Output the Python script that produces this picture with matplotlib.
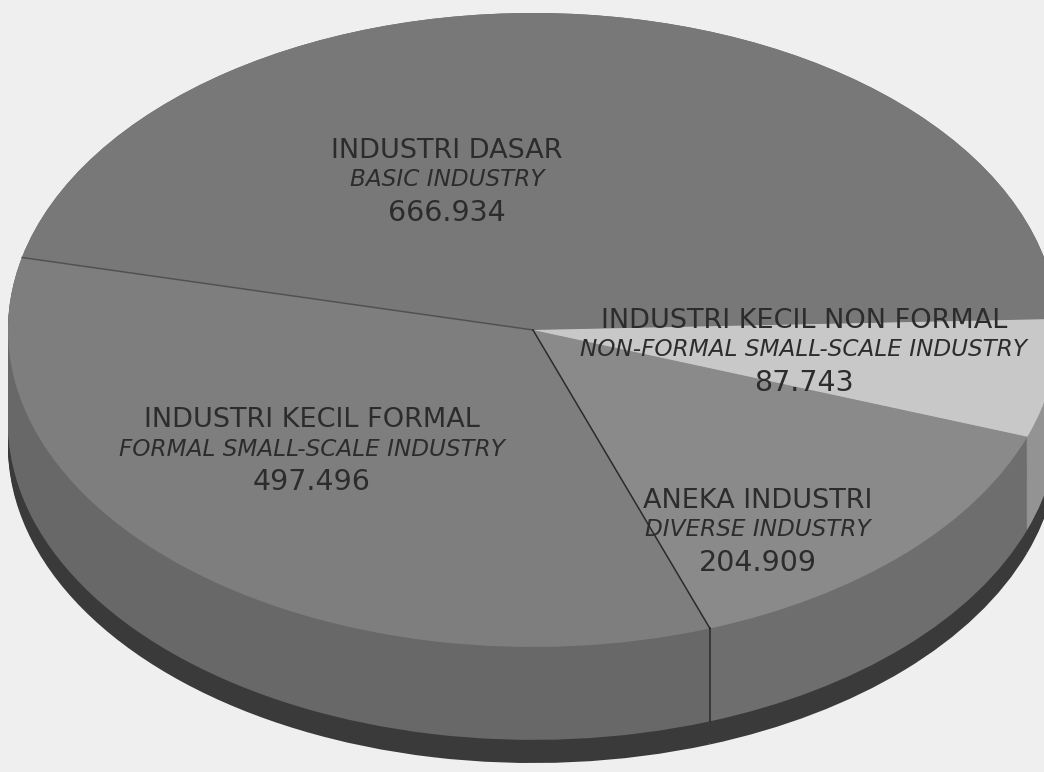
import numpy as np
import matplotlib.pyplot as plt

# nilai produksi per kelompok industri
names_id = ['INDUSTRI DASAR', 'INDUSTRI KECIL FORMAL', 'ANEKA INDUSTRI',
            'INDUSTRI KECIL NON FORMAL']
names_en = ['BASIC INDUSTRY', 'FORMAL SMALL-SCALE INDUSTRY', 'DIVERSE INDUSTRY',
            'NON-FORMAL SMALL-SCALE INDUSTRY']
values = [666.934, 497.496, 204.909, 87.743]
value_text = ['666.934', '497.496', '204.909', '87.743']

top_colors = ['#787878', '#7e7e7e', '#8a8a8a', '#c8c8c8']
side_colors = ['#6a6a6a', '#686868', '#6e6e6e', '#939393']
base_color = '#3a3a3a'
text_color = '#2c2c2c'

# posisi label (piksel) dan jarak antar baris
label_pos = [(447, 158), (312, 427), (758, 508), (804, 328)]
line_offsets = [0, 28.5, 63]

start = 2
side_depth = 0.293
base_depth = 0.366

fig = plt.figure(figsize=(10.44, 7.72), dpi=100, facecolor='#efefef')
ax = fig.add_axes([0, 0, 1, 1])
ax.set_facecolor('#efefef')

# alas gelap lalu dinding samping, ditumpuk dari bawah ke atas
for d in np.linspace(base_depth, side_depth, 14):
    ax.pie(values, colors=[base_color] * 4, startangle=start, center=(0, -d),
           wedgeprops=dict(linewidth=0))
for d in np.linspace(side_depth, 0, 60):
    ax.pie(values, colors=side_colors, startangle=start, center=(0, -d),
           wedgeprops=dict(linewidth=0))

# permukaan atas
ax.pie(values, colors=top_colors, startangle=start,
       wedgeprops=dict(linewidth=0))

# garis batas antar irisan
bounds = start + 360 * np.cumsum(values) / np.sum(values)
line_alpha = [0.45, 0.9, 0.0, 0.0]
for ang, a in zip(bounds, line_alpha):
    if a == 0:
        continue
    t = np.deg2rad(ang)
    cx, cy = np.cos(t), np.sin(t)
    ax.plot([0, cx], [0, cy], color='#222222', lw=1.1, alpha=a)
    if cy < 0:
        ax.plot([cx, cx], [cy, cy - side_depth], color='#222222', lw=1.1, alpha=a)

ax.set_aspect('auto')
ax.set_xlim(-533 / 525, (1044 - 533) / 525)
ax.set_ylim((330 - 772) / 317, 330 / 317)
ax.axis('off')

# label tiga baris: nama, terjemahan, nilai
for (px, py), n1, n2, v in zip(label_pos, names_id, names_en, value_text):
    x = px / 1044
    ax.text(x, 1 - (py + line_offsets[0]) / 772, n1, transform=ax.transAxes,
            ha='center', va='baseline', fontsize=19.5, color=text_color)
    ax.text(x, 1 - (py + line_offsets[1]) / 772, n2, transform=ax.transAxes,
            ha='center', va='baseline', fontsize=16.7, style='italic',
            color=text_color)
    ax.text(x, 1 - (py + line_offsets[2]) / 772, v, transform=ax.transAxes,
            ha='center', va='baseline', fontsize=20.5, color=text_color)

fig.savefig('out.png', dpi=100, facecolor=fig.get_facecolor())
